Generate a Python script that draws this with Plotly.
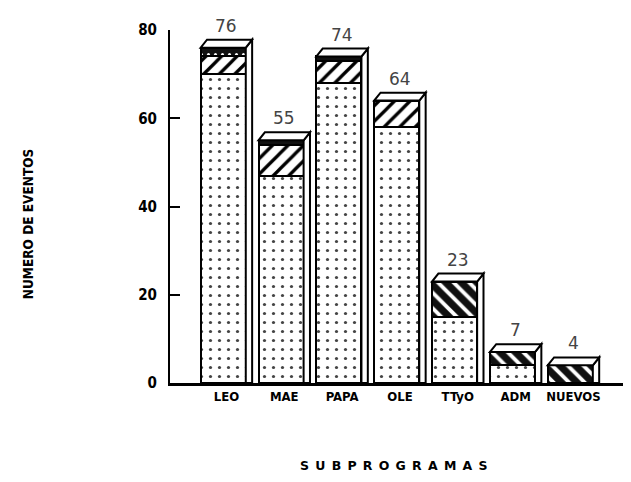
import plotly.graph_objects as go

categories = ["LEO", "MAE", "PAPA", "OLE", "TTyO", "ADM", "NUEVOS"]
dotted = [70, 47, 68, 58, 15, 4, 0]
hatched = [4, 7, 5, 6, 0, 0, 0]
dark_dotted = [2, 1, 1, 0, 0, 0, 0]
dark_hatched = [0, 0, 0, 0, 8, 3, 4]
totals = [76, 55, 74, 64, 23, 7, 4]
y_ticks = [0, 20, 40, 60, 80]

xs = list(range(len(categories)))
BW = 0.78      # bar width (category units)
DX = 0.11      # 3D depth in x
DY = 1.8       # 3D depth in y
LINE = dict(color="black", width=2)

series = [
    (dotted, dict(shape=".", fgcolor="#444", bgcolor="white", size=9, solidity=0.1)),
    (hatched, dict(shape="/", fgcolor="black", bgcolor="white", size=11, solidity=0.3)),
    (dark_dotted, dict(shape=".", fgcolor="white", bgcolor="#111", size=7, solidity=0.15)),
    (dark_hatched, dict(shape="\\", fgcolor="white", bgcolor="#111", size=11, solidity=0.35)),
]

fig = go.Figure()
for vals, pat in series:
    fig.add_trace(go.Bar(
        x=xs, y=vals, width=BW,
        marker=dict(color=pat["bgcolor"], line=LINE,
                    pattern=dict(shape=pat["shape"], fgcolor=pat["fgcolor"],
                                 bgcolor=pat["bgcolor"], size=pat["size"],
                                 solidity=pat["solidity"], fillmode="overlay",
                                 fgopacity=1)),
        showlegend=False, hoverinfo="skip",
    ))

shapes = []
for x, t in zip(xs, totals):
    x0, x1 = x - BW / 2, x + BW / 2
    # side face
    shapes.append(dict(type="path", xref="x", yref="y", layer="above",
                       path=f"M {x1},0 L {x1+DX},0 L {x1+DX},{t+DY} L {x1},{t} Z",
                       fillcolor="white", line=LINE))
    # top face
    shapes.append(dict(type="path", xref="x", yref="y", layer="above",
                       path=f"M {x0},{t} L {x1},{t} L {x1+DX},{t+DY} L {x0+DX},{t+DY} Z",
                       fillcolor="white", line=LINE))

annotations = []
for x, t in zip(xs, totals):
    annotations.append(dict(x=x + DX / 2, y=t + DY, text=str(t), showarrow=False,
                            xref="x", yref="y", yanchor="bottom", yshift=2,
                            font=dict(family="DejaVu Sans", size=17, color="#444")))

annotations.append(dict(text="NUMERO DE EVENTOS", textangle=-90, showarrow=False,
                        xref="paper", yref="paper", x=-0.308, y=0.45,
                        xanchor="center", yanchor="middle",
                        font=dict(family="DejaVu Sans Condensed", size=13.5, color="black", weight="bold")))
annotations.append(dict(text="\u2002".join("SUBPROGRAMAS"), showarrow=False,
                        xref="paper", yref="paper", x=0.486, y=-0.235,
                        xanchor="center", yanchor="middle",
                        font=dict(family="DejaVu Sans", size=12.5, color="black", weight="bold")))

fig.update_layout(
    width=631, height=482,
    margin=dict(l=162, r=8, t=22, b=107),
    paper_bgcolor="white", plot_bgcolor="white",
    barmode="stack",
    shapes=shapes, annotations=annotations,
    xaxis=dict(range=[-0.92, 7.05], tickmode="array", tickvals=[x + DX / 2 for x in xs],
               ticktext=categories, showgrid=False, zeroline=False,
               showline=True, linecolor="black", linewidth=2.5, ticks="",
               ticklabelstandoff=0,
               tickfont=dict(family="DejaVu Sans Condensed", size=13, color="black", weight="bold")),
    yaxis=dict(range=[0, 80], tickmode="array", tickvals=y_ticks,
               showgrid=False, zeroline=False, showline=True, linecolor="black", linewidth=2,
               ticks="inside", ticklen=10, tickwidth=2, tickcolor="black",
               ticklabelstandoff=8,
               tickfont=dict(family="DejaVu Sans Condensed", size=15, color="black", weight="bold")),
)

fig.write_html("out.html")
